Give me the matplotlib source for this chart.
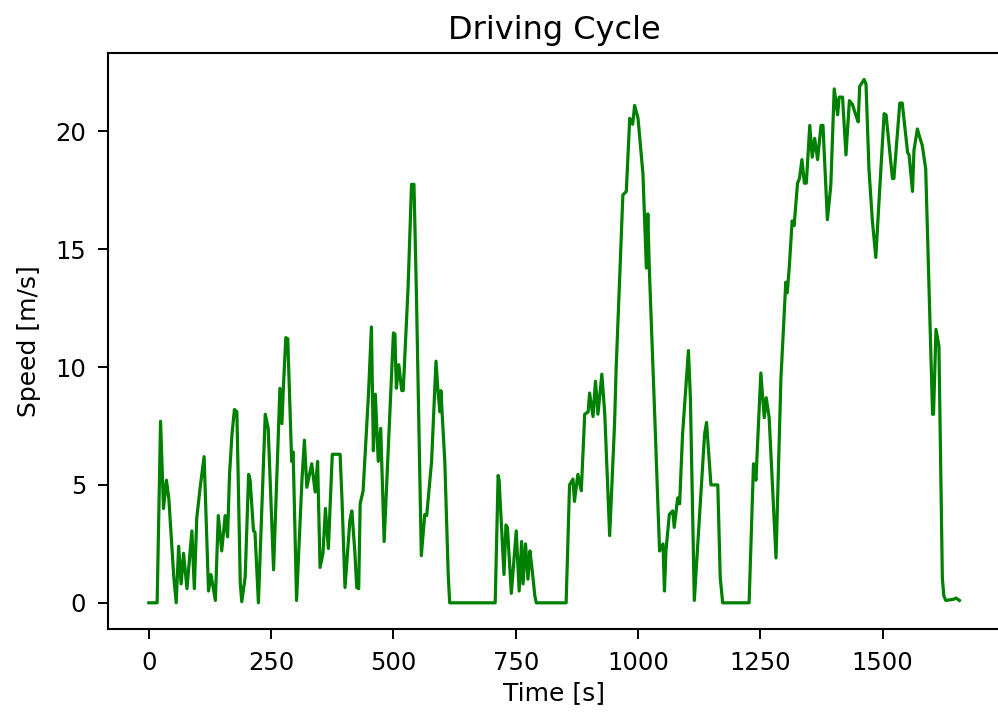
import matplotlib
matplotlib.use("Agg")
import matplotlib.pyplot as plt

# Speed profile of the driving cycle: time stamps [s] and speed [m/s]
time_s = [
    0, 17, 24, 30, 36, 41, 51, 56, 61, 66, 71, 78, 88, 93, 98, 105, 113, 122,
    127, 136, 142, 149, 156, 161, 165, 170, 175, 180, 187, 190, 197, 204, 207,
    214, 217, 224, 238, 244, 255, 268, 272, 275, 280, 284, 292, 295, 302, 313,
    318, 323, 333, 340, 345, 350, 356, 361, 367, 375, 391, 395, 401, 411, 415,
    421, 425, 429, 432, 438, 449, 455, 459, 463, 469, 474, 481, 500, 503, 506,
    511, 517, 520, 530, 537, 542, 547, 557, 564, 568, 578, 587, 591, 595, 597,
    605, 612, 615, 708, 714, 716, 726, 730, 733, 741, 751, 757, 762, 765, 770,
    775, 779, 783, 789, 792, 853, 860, 867, 870, 877, 884, 891, 898, 901, 908,
    913, 918, 926, 932, 942, 952, 955, 969, 976, 983, 989, 993, 1000, 1010,
    1013, 1017, 1020, 1023, 1034, 1044, 1051, 1054, 1057, 1064, 1071, 1074,
    1081, 1085, 1091, 1103, 1107, 1115, 1136, 1140, 1149, 1163, 1168, 1173,
    1227, 1236, 1241, 1244, 1251, 1258, 1262, 1268, 1282, 1292, 1302, 1305,
    1309, 1315, 1319, 1326, 1330, 1335, 1340, 1344, 1351, 1356, 1361, 1367,
    1374, 1378, 1387, 1394, 1401, 1408, 1411, 1418, 1425, 1432, 1438, 1445,
    1450, 1453, 1462, 1466, 1472, 1479, 1486, 1493, 1503, 1507, 1520, 1523,
    1535, 1540, 1551, 1554, 1561, 1564, 1571, 1575, 1581, 1588, 1602, 1604,
    1609, 1615, 1622, 1625, 1629, 1645, 1650, 1657,
]
speed_ms = [
    0, 0, 7.7, 4.0, 5.2, 4.4, 1.1, 0, 2.4, 0.8, 2.1, 0.6, 3.05, 0.6, 3.6, 4.9,
    6.2, 0.5, 1.2, 0.1, 3.7, 2.2, 3.7, 2.8, 5.45, 7.15, 8.2, 8.1, 0.8, 0.05,
    1.1, 5.45, 5.2, 3.05, 3.0, 0, 8.0, 7.4, 1.4, 9.1, 7.6, 9.1, 11.25, 11.2,
    6.0, 6.4, 0.1, 5.2, 6.9, 4.9, 5.9, 4.7, 6.0, 1.5, 2.1, 4.0, 2.3, 6.3, 6.3,
    4.3, 0.65, 3.5, 3.9, 2.2, 0.65, 0.6, 4.2, 4.75, 8.85, 11.7, 6.45, 8.85,
    6.0, 7.4, 2.6, 11.45, 11.4, 9.1, 10.1, 9.0, 9.0, 13.4, 17.75, 17.75, 13.1,
    2.0, 3.75, 3.7, 6.0, 10.25, 9.0, 8.1, 9.0, 6.0, 1.2, 0, 0, 5.4, 5.2, 1.2,
    3.3, 3.2, 0.4, 3.05, 0.5, 2.6, 0.8, 2.5, 1.0, 2.2, 1.5, 0.3, 0, 0, 5.0,
    5.25, 4.3, 5.45, 4.75, 8.0, 8.1, 8.9, 7.9, 9.4, 8.0, 9.7, 8.0, 2.85, 7.6,
    9.8, 17.3, 17.45, 20.55, 20.3, 21.1, 20.55, 18.2, 16.5, 14.2, 16.5, 14.2,
    8.0, 2.2, 2.5, 0.5, 2.2, 3.75, 3.9, 3.2, 4.45, 4.2, 7.15, 10.7, 8.7, 0.1,
    7.15, 7.65, 5.0, 5.0, 1.07, 0, 0, 5.9, 5.2, 6.6, 9.75, 7.85, 8.7, 7.85,
    1.9, 9.5, 13.6, 13.15, 14.2, 16.2, 16.0, 17.8, 18.0, 18.8, 17.8, 17.8,
    20.25, 18.9, 19.7, 18.8, 20.25, 20.25, 16.25, 17.7, 21.8, 20.7, 21.45,
    21.45, 19.0, 21.3, 21.15, 20.7, 20.4, 21.9, 22.2, 22.0, 18.4, 16.2, 14.65,
    17.2, 20.75, 20.7, 18.0, 18.0, 21.2, 21.2, 19.1, 19.0, 17.45, 19.2, 20.1,
    19.8, 19.4, 18.4, 8.0, 8.0, 11.6, 10.9, 1.06, 0.3, 0.1, 0.15, 0.2, 0.1,
]

fig = plt.figure(figsize=(9.98, 7.19), dpi=100)
ax = fig.add_axes([0.1085, 0.1252, 0.8935, 0.8007])

ax.plot(time_s, speed_ms, color="green", linewidth=2.3)

ax.set_title("Driving Cycle", fontsize=23, pad=10)
ax.set_xlabel("Time [s]", fontsize=18, labelpad=4)
ax.set_ylabel("Speed [m/s]", fontsize=18, labelpad=10)
ax.set_xticks([0, 250, 500, 750, 1000, 1250, 1500])
ax.set_yticks([0, 5, 10, 15, 20])
ax.tick_params(labelsize=17.5, length=7, width=1.4, pad=9)
for spine in ax.spines.values():
    spine.set_linewidth(1.5)

fig.savefig("out.png", dpi=100)
